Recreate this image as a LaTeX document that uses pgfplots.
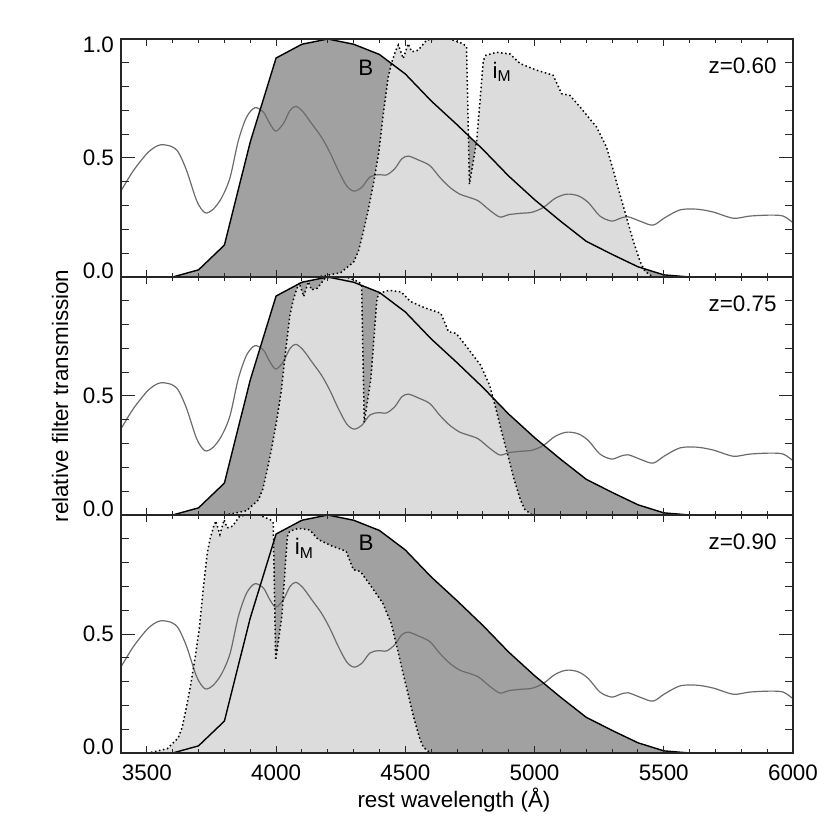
\documentclass[border=0pt]{standalone}
\usepackage{fontspec}
\setmainfont{Liberation Sans}
\usepackage{pgfplots}
\pgfplotsset{compat=1.18}
\usepackage{pgfplotstable}

\definecolor{fillL}{gray}{0.863}
\definecolor{fillD}{gray}{0.63}
\definecolor{specC}{gray}{0.42}
\definecolor{frameC}{gray}{0.15}
\newcommand\lf{\fontsize{11.2}{13}\selectfont}

% Bessell B filter (rest frame)
\pgfplotstableread{
lam t
3600 0.000
3700 0.030
3800 0.134
3900 0.567
4000 0.920
4100 0.978
4200 1.000
4300 0.978
4400 0.935
4500 0.853
4600 0.740
4700 0.640
4800 0.536
4900 0.424
5000 0.325
5100 0.235
5200 0.150
5300 0.095
5400 0.043
5500 0.009
5600 0.000
}\Bfilt

% i_M filter (observed frame)
\pgfplotstableread{
lam t
6650 0.000
6700 0.005
6800 0.018
6880 0.063
6910 0.108
6940 0.190
6970 0.280
7005 0.400
7035 0.520
7064 0.686
7094 0.840
7115 0.900
7140 0.950
7157 0.975
7187 0.918
7218 0.980
7240 0.946
7280 0.953
7333 0.996
7394 1.000
7477 1.000
7558 0.980
7579 0.967
7597 0.390
7642 0.573
7683 0.910
7700 0.932
7765 0.944
7848 0.937
7910 0.897
8013 0.869
8115 0.848
8168 0.770
8219 0.763
8282 0.714
8384 0.630
8446 0.545
8488 0.447
8528 0.348
8570 0.249
8611 0.151
8653 0.066
8683 0.024
8734 0.000
}\iMobs

% spectrum (rest frame)
\pgfplotstableread{
lam f
3400 0.362
3448 0.447
3499 0.517
3530 0.545
3557 0.556
3596 0.548
3622 0.524
3654 0.447
3693 0.320
3725 0.270
3757 0.285
3790 0.334
3822 0.418
3854 0.573
3886 0.672
3918 0.711
3951 0.693
3976 0.644
3999 0.613
4028 0.644
4054 0.700
4077 0.717
4105 0.693
4138 0.644
4176 0.587
4208 0.524
4241 0.447
4273 0.383
4301 0.361
4331 0.376
4363 0.420
4395 0.430
4428 0.429
4460 0.456
4486 0.496
4511 0.508
4550 0.492
4595 0.468
4634 0.418
4673 0.376
4711 0.348
4737 0.338
4782 0.320
4827 0.280
4866 0.252
4900 0.262
4950 0.268
4990 0.272
5034 0.292
5079 0.330
5124 0.348
5169 0.341
5208 0.313
5253 0.256
5298 0.235
5330 0.246
5362 0.253
5414 0.232
5459 0.218
5504 0.249
5563 0.282
5627 0.285
5691 0.273
5769 0.247
5833 0.256
5911 0.260
5962 0.256
6000 0.228
}\spec

\pgfplotsset{
  panel/.style={
    width=336pt, height=119pt, scale only axis,
    anchor=south west,
    xmin=3400, xmax=6000, ymin=0, ymax=1,
    xtick={3500,4000,4500,5000,5500,6000},
    minor x tick num=4,
    ytick={0,0.5,1},
    minor ytick={0.1,0.2,0.3,0.4,0.6,0.7,0.8,0.9},
    tick align=inside, tick pos=both,
    axis on top,
    axis line style={frameC, line width=0.6pt},
    every tick/.style={frameC, line width=0.5pt},
    xtick style={/pgfplots/major tick length=3.5pt,/pgfplots/minor tick length=2pt},
    ytick style={/pgfplots/major tick length=7pt,/pgfplots/minor tick length=3.8pt},
    tick label style={font=\lf},
    xticklabel style={yshift=-2.5pt},
    yticklabel style={anchor=base east},
    clip=true,
  },
  Bfill/.style={draw=none, fill=fillD},
  Ifill/.style={draw=none, fill=fillL},
  specline/.style={specC, line width=0.6pt, smooth, tension=0.5},
  Bline/.style={black, line width=0.7pt},
  Iline/.style={black, line width=0.75pt, dash pattern=on 0.75pt off 1.3pt},
}

\begin{document}
\begin{tikzpicture}
\path[use as bounding box] (0,0) rectangle (415pt,415pt);

% top panel z=0.60
\begin{axis}[panel, at={(60.5pt,276.5pt)}, xticklabels={},
  yticklabels={\raisebox{-0.9pt}{0.0},\raisebox{-3.9pt}{0.5},\raisebox{-6.6pt}{1.0}}]
\addplot[Bfill] table[x=lam,y=t] {\Bfilt} \closedcycle;
\addplot[Ifill] table[x expr=\thisrow{lam}/1.60, y=t] {\iMobs} \closedcycle;
\addplot[specline] table[x=lam,y=f] {\spec};
\addplot[Bline] table[x=lam,y=t] {\Bfilt};
\addplot[Iline] table[x expr=\thisrow{lam}/1.60, y=t] {\iMobs};
\node[anchor=base west, font=\lf, inner sep=0pt] at (axis cs:4317,0.848) {B};
\node[anchor=base west, font=\lf, inner sep=0pt] at (axis cs:4836,0.834) {i\textsubscript{M}};
\node[anchor=base east, font=\lf, inner sep=0pt] at (axis cs:5938,0.853) {z=0.60};
\end{axis}

% middle panel z=0.75
\begin{axis}[panel, at={(60.5pt,157.5pt)}, xticklabels={},
  yticklabels={\raisebox{-0.9pt}{0.0},\raisebox{-3.9pt}{0.5},{}}]
\addplot[Bfill] table[x=lam,y=t] {\Bfilt} \closedcycle;
\addplot[Ifill] table[x expr=\thisrow{lam}/1.75, y=t] {\iMobs} \closedcycle;
\addplot[specline] table[x=lam,y=f] {\spec};
\addplot[Bline] table[x=lam,y=t] {\Bfilt};
\addplot[Iline] table[x expr=\thisrow{lam}/1.75, y=t] {\iMobs};
\node[anchor=base east, font=\lf, inner sep=0pt] at (axis cs:5938,0.853) {z=0.75};
\end{axis}

% bottom panel z=0.90
\begin{axis}[panel, at={(60.5pt,38.5pt)}, xticklabels={3500,4000,4500,5000,5500,6000},
  yticklabels={\raisebox{-0.9pt}{0.0},\raisebox{-3.9pt}{0.5},{}}]
\addplot[Bfill] table[x=lam,y=t] {\Bfilt} \closedcycle;
\addplot[Ifill] table[x expr=\thisrow{lam}/1.90, y=t] {\iMobs} \closedcycle;
\addplot[specline] table[x=lam,y=f] {\spec};
\addplot[Bline] table[x=lam,y=t] {\Bfilt};
\addplot[Iline] table[x expr=\thisrow{lam}/1.90, y=t] {\iMobs};
\node[anchor=base west, font=\lf, inner sep=0pt] at (axis cs:4318,0.850) {B};
\node[anchor=base west, font=\lf, inner sep=0pt] at (axis cs:4071,0.832) {i\textsubscript{M}};
\node[anchor=base east, font=\lf, inner sep=0pt] at (axis cs:5938,0.853) {z=0.90};
\end{axis}

\node[font=\lf, rotate=90, anchor=base, inner sep=0pt] at (34pt,217pt) {relative filter transmission};
\node[font=\lf, anchor=base, inner sep=0pt] at (227pt,11pt) {rest wavelength (Å)};
\end{tikzpicture}
\end{document}
